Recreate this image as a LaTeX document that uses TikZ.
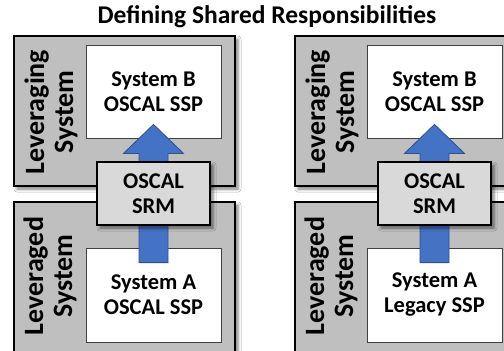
\documentclass[tikz,border=0pt]{standalone}
\usepackage{fontspec}
\setmainfont{Carlito}
\usetikzlibrary{calc,shadows.blur}

\definecolor{panelgray}{RGB}{191,191,191}
\definecolor{srmgray}{RGB}{217,217,217}
\definecolor{sspedge}{RGB}{64,64,64}
\definecolor{arrowblue}{RGB}{68,114,196}
\definecolor{arrowedge}{RGB}{47,82,143}

\tikzset{
  softshadow/.style={blur shadow={shadow xshift=3pt, shadow yshift=-3pt,
      shadow blur radius=3pt, shadow opacity=50}},
  panel/.style={draw=black, line width=1.8pt, fill=panelgray,
      minimum width=221pt, inner sep=0pt, softshadow},
  sspbox/.style={draw=sspedge, line width=0.8pt, fill=white,
      minimum width=135pt, inner sep=0pt, align=center,
      font=\fontsize{22.5}{25}\selectfont\bfseries},
  srmbox/.style={draw=black, line width=1.2pt, fill=srmgray,
      minimum width=113pt, minimum height=63pt, inner sep=0pt, align=center,
      font=\fontsize{22.5}{25}\selectfont\bfseries, softshadow},
  sidelabel/.style={rotate=90, align=center, inner sep=0pt,
      font=\fontsize{28}{29}\selectfont\bfseries},
  blockarrow/.style={fill=arrowblue, draw=arrowedge, line width=0.8pt,
      line join=miter},
  titletext/.style={font=\fontsize{25.5}{28}\selectfont\bfseries}
}

% one panel: leveraging system above, leveraged system below, SRM between
\newcommand{\srmpanel}[3]{%
  \begin{scope}[xshift=#1]
    \node[panel, minimum height=150pt] (top#2) at (124.5,111) {};
    \node[panel, minimum height=178pt] (bot#2) at (124.5,291) {};
    \node[sidelabel] (toplbl#2) at (51,112) {Leveraging\\System};
    \node[sidelabel] (botlbl#2) at (50,276) {Leveraged\\System};
    \node[sspbox, minimum height=93pt] (sspB#2) at (153.5,91.5)
      {System B\\OSCAL SSP};
    \node[sspbox, minimum height=94pt] (sspA#2) at (153.5,295)
      {System A\\#3};
    % block arrow from system A up into system B
    \coordinate (tail#2) at ($(sspA#2.north)+(0,15)$);
    \coordinate (tip#2) at ($(sspB#2.south)+(0,-14)$);
    \draw[blockarrow]
      (tip#2) -- ($(tip#2)+(30,29)$) -- ($(tip#2)+(14.5,29)$)
      -- ($(tail#2)+(14.5,0)$) -- ($(tail#2)+(-14.5,0)$)
      -- ($(tip#2)+(-14.5,29)$) -- ($(tip#2)+(-30,29)$) -- cycle;
    \node[srmbox] (srm#2) at (153.5,193.5) {OSCAL\\SRM};
  \end{scope}}

\begin{document}
\begin{tikzpicture}[x=1pt, y=-1pt]
  \useasboundingbox (0,0) rectangle (504,351);
  \fill[white] (0,0) rectangle (504,351);
  \begin{scope}
    \clip (0,0) rectangle (504,351);
    \srmpanel{0pt}{L}{OSCAL SSP}
    \srmpanel{281pt}{R}{Legacy SSP}
  \end{scope}
  \node[titletext] (title) at (267,17) {Defining Shared Responsibilities};
\end{tikzpicture}
\end{document}
